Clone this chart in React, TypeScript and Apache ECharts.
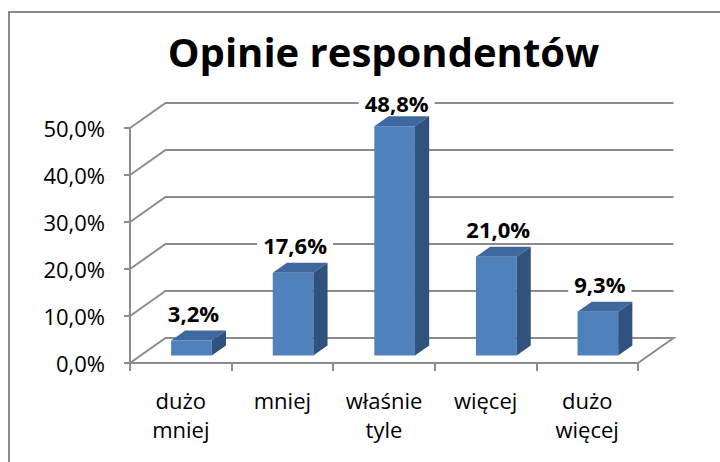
import React, { useEffect, useRef } from 'react';
import * as echarts from 'echarts';

const title = 'Opinie respondentów';
const categories = ['dużo\nmniej', 'mniej', 'właśnie\ntyle', 'więcej', 'dużo\nwięcej'];
const values = [3.2, 17.6, 48.8, 21.0, 9.3];
const yTicks = [0, 10, 20, 30, 40, 50];

const fmt = (v: number) => v.toFixed(1).replace('.', ',') + '%';

const DX = 35.5;
const DY = 25;
const BAR_FRONT = 0.3;
const BAR_DEPTH = 0.4;
const BAR_W = 0.4;
const GRID_COLOR = '#8c8c8c';
const FONT = '"Open Sans", "Noto Sans", sans-serif';

export default function App() {
  const ref = useRef<HTMLDivElement>(null);
  useEffect(() => {
    const chart = echarts.init(ref.current!, null, { renderer: 'svg' });
    const yMax = yTicks[yTicks.length - 1];

    const walls = (params: any, api: any) => {
      const v = api.value(1);
      const bw = api.size([1, 0])[0];
      const p0 = api.coord([0, v]);
      const p4 = api.coord([categories.length - 1, v]);
      const xl = p0[0] - bw / 2;
      const xr = p4[0] + bw / 2;
      const y = p0[1];
      const points =
        v === 0
          ? [[xl, y], [xl + DX, y - DY], [xr + DX, y - DY], [xr, y]]
          : [[xl, y], [xl + DX, y - DY], [xr + DX, y - DY]];
      return {
        type: 'polyline',
        shape: { points },
        style: { stroke: GRID_COLOR, lineWidth: 2, fill: 'none' },
      };
    };

    const bars = (params: any, api: any) => {
      const i = api.value(0);
      const v = api.value(1);
      const bw = api.size([1, 0])[0];
      const base = api.coord([i, 0]);
      const top = api.coord([i, v]);
      const topLimit = api.coord([i, yMax])[1] - DY;
      const fx = base[0] + DX * BAR_FRONT;
      const fy = -DY * BAR_FRONT;
      const w = bw * BAR_W;
      const x0 = fx - w / 2;
      const x1 = fx + w / 2;
      const yb = base[1] + fy;
      const yt = top[1] + fy;
      const ddx = DX * BAR_DEPTH;
      const ddy = DY * BAR_DEPTH;
      const ly = Math.max(yt - ddy - 17.5, topLimit);
      return {
        type: 'group',
        children: [
          {
            type: 'rect',
            shape: { x: x0, y: yt, width: w, height: yb - yt },
            style: { fill: '#4f81bd' },
          },
          {
            type: 'polygon',
            shape: { points: [[x0, yt], [x1, yt], [x1 + ddx, yt - ddy], [x0 + ddx, yt - ddy]] },
            style: { fill: '#3f689e' },
          },
          {
            type: 'polygon',
            shape: { points: [[x1, yt], [x1 + ddx, yt - ddy], [x1 + ddx, yb - ddy], [x1, yb]] },
            style: { fill: '#31527e' },
          },
          {
            type: 'text',
            x: fx + 2,
            y: ly,
            style: {
              text: fmt(v),
              font: 'bold 22px ' + FONT,
              fill: '#000',
              align: 'center',
              verticalAlign: 'middle',
              textAlign: 'center',
              textVerticalAlign: 'middle',
              backgroundColor: '#fff',
              padding: [1, 6],
            },
          },
        ],
      };
    };

    chart.setOption({
      animation: false,
      backgroundColor: '#fff',
      grid: { left: 130, right: 82, top: 128, bottom: 99, containLabel: false },
      xAxis: {
        type: 'category',
        data: categories,
        boundaryGap: true,
        axisLine: { show: true, lineStyle: { color: GRID_COLOR, width: 2 } },
        axisTick: { show: true, length: 8, lineStyle: { color: GRID_COLOR, width: 2 } },
        axisLabel: {
          color: '#000',
          fontFamily: FONT,
          fontSize: 22,
          lineHeight: 29,
          margin: 22,
          interval: 0,
        },
        splitLine: { show: false },
      },
      yAxis: {
        type: 'value',
        min: 0,
        max: yMax,
        interval: 10,
        axisLine: { show: true, lineStyle: { color: GRID_COLOR, width: 2 } },
        axisTick: { show: true, length: 6, lineStyle: { color: GRID_COLOR, width: 2 } },
        axisLabel: {
          formatter: fmt,
          color: '#000',
          fontFamily: FONT,
          fontSize: 22,
          margin: 25,
          padding: [4, 0, 0, 0],
        },
        splitLine: { show: false },
      },
      series: [
        {
          type: 'custom',
          z: 1,
          silent: true,
          data: yTicks.map((v) => [0, v]),
          encode: { x: 0, y: 1 },
          renderItem: walls,
        },
        {
          type: 'custom',
          z: 3,
          data: values.map((v, i) => [i, v]),
          encode: { x: 0, y: 1 },
          renderItem: bars,
        },
      ],
      graphic: [
        {
          type: 'rect',
          z: -10,
          shape: { x: 9, y: 12, width: 800, height: 600 },
          style: { fill: 'none', stroke: '#8a8a8a', lineWidth: 2 },
        },
        {
          type: 'text',
          x: 383.5,
          y: 51,
          style: {
            text: title,
            font: 'bold 40px ' + FONT,
            fill: '#000',
            textAlign: 'center',
            textVerticalAlign: 'middle',
            align: 'center',
            verticalAlign: 'middle',
          },
        },
      ],
    });
    return () => chart.dispose();
  }, []);
  return (
    <div
      ref={ref}
      style={{ position: 'absolute', left: 0, top: 0, width: 720, height: 462 }}
    />
  );
}
